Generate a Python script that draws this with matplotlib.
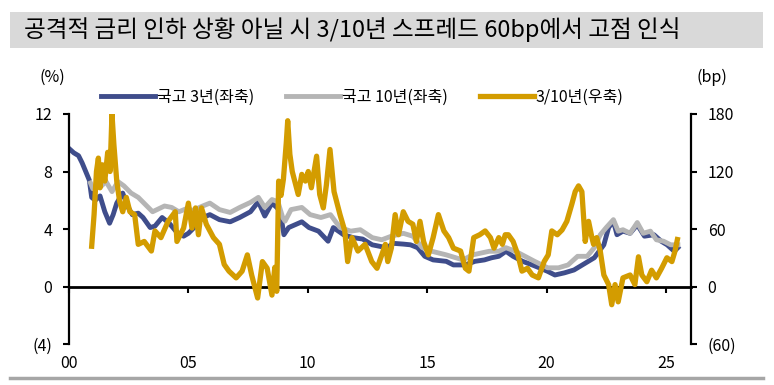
import matplotlib.pyplot as plt
from matplotlib.patches import Rectangle
from matplotlib.lines import Line2D

plt.rcParams['font.family'] = ['Noto Sans CJK KR', 'DejaVu Sans']

# 국고 3년 (%)
yr_3y = [2000.00, 2000.20, 2000.40, 2000.55, 2000.70, 2000.85, 2000.95, 2001.10, 2001.30, 2001.50,
         2001.70, 2001.85, 2002.00, 2002.25, 2002.45, 2002.65, 2002.90, 2003.10, 2003.40, 2003.60,
         2003.90, 2004.20, 2004.50, 2004.80, 2005.00, 2005.30, 2005.60, 2005.90, 2006.30, 2006.75,
         2007.15, 2007.60, 2007.93, 2008.20, 2008.50, 2008.70, 2008.85, 2009.00, 2009.20, 2009.75,
         2010.05, 2010.45, 2010.85, 2011.07, 2011.50, 2011.90, 2012.30, 2012.70, 2013.00, 2013.30,
         2013.60, 2014.00, 2014.30, 2014.60, 2014.90, 2015.25, 2015.80, 2016.10, 2016.60, 2017.00,
         2017.40, 2017.70, 2018.00, 2018.30, 2018.60, 2019.00, 2019.40, 2019.70, 2020.05, 2020.35,
         2020.75, 2021.15, 2021.60, 2022.00, 2022.20, 2022.40, 2022.60, 2022.80, 2022.95, 2023.20,
         2023.50, 2023.80, 2024.10, 2024.50, 2024.80, 2025.05, 2025.35, 2025.50]
ktb_3y = [9.6, 9.3, 9.1, 8.6, 8.0, 7.4, 6.2, 6.0, 6.3, 5.2,
          4.4, 5.0, 5.8, 6.5, 5.6, 5.0, 5.1, 4.8, 4.1, 4.2,
          4.8, 4.4, 3.8, 3.5, 3.7, 4.2, 4.8, 5.0, 4.65, 4.5,
          4.8, 5.2, 5.9, 4.9, 5.8, 5.5, 5.2, 3.6, 4.1, 4.5,
          4.1, 3.85, 3.15, 4.1, 3.6, 3.4, 3.3, 2.9, 2.8, 2.7,
          3.0, 2.95, 2.9, 2.7, 2.1, 1.85, 1.75, 1.5, 1.5, 1.75,
          1.85, 2.0, 2.1, 2.45, 2.1, 1.75, 1.5, 1.3, 1.05, 0.8,
          0.95, 1.15, 1.6, 2.0, 2.45, 2.9, 4.1, 4.55, 3.6, 3.85,
          3.7, 4.3, 3.5, 3.6, 3.15, 2.9, 2.45, 2.7]

# 국고 10년 (%)
yr_10y = [2000.90, 2001.00, 2001.30, 2001.55, 2001.80, 2002.05, 2002.30, 2002.60, 2002.90, 2003.20,
          2003.50, 2003.75, 2004.00, 2004.30, 2004.60, 2004.90, 2005.20, 2005.60, 2005.90, 2006.30,
          2006.75, 2007.15, 2007.60, 2007.93, 2008.20, 2008.50, 2008.75, 2008.95, 2009.05, 2009.30,
          2009.75, 2010.10, 2010.55, 2010.95, 2011.35, 2011.80, 2012.20, 2012.70, 2013.10, 2013.50,
          2014.00, 2014.40, 2014.80, 2015.20, 2015.80, 2016.50, 2016.90, 2017.60, 2018.00, 2018.30,
          2018.70, 2019.10, 2019.50, 2020.05, 2020.50, 2020.90, 2021.30, 2021.70, 2022.00, 2022.25,
          2022.50, 2022.80, 2023.00, 2023.20, 2023.50, 2023.80, 2024.05, 2024.35, 2024.60, 2024.90,
          2025.20, 2025.50]
ktb_10y = [7.2, 6.8, 6.9, 7.3, 6.6, 7.3, 7.0, 6.5, 6.2, 5.7,
           5.2, 5.4, 5.6, 5.5, 5.2, 5.4, 5.3, 5.6, 5.8, 5.35,
           5.15, 5.5, 5.85, 6.2, 5.5, 6.05, 5.9, 4.8, 4.55, 5.35,
           5.5, 5.0, 4.8, 5.0, 4.1, 3.85, 3.95, 3.4, 3.25, 3.5,
           3.7, 3.5, 2.7, 2.45, 2.2, 1.85, 2.2, 2.45, 2.45, 2.7,
           2.45, 2.1, 1.75, 1.3, 1.3, 1.5, 2.1, 2.1, 2.7, 3.6,
           4.1, 4.65, 3.85, 3.95, 3.7, 4.45, 3.7, 3.85, 3.25, 3.15,
           2.9, 2.9]

# 3/10년 스프레드 (bp)
yr_spr = [2000.95, 2001.05, 2001.15, 2001.23, 2001.30, 2001.40, 2001.50, 2001.62, 2001.72, 2001.80,
          2001.88, 2002.00, 2002.12, 2002.25, 2002.40, 2002.55, 2002.75, 2002.90, 2003.15, 2003.45,
          2003.60, 2003.85, 2004.15, 2004.45, 2004.52, 2004.80, 2005.00, 2005.15, 2005.30, 2005.42,
          2005.55, 2005.75, 2006.05, 2006.30, 2006.50, 2006.70, 2007.00, 2007.25, 2007.47, 2007.65,
          2007.90, 2008.10, 2008.30, 2008.50, 2008.62, 2008.70, 2008.78, 2008.88, 2008.98, 2009.10,
          2009.16, 2009.25, 2009.35, 2009.60, 2009.75, 2009.90, 2010.02, 2010.15, 2010.37, 2010.50,
          2010.65, 2010.78, 2010.93, 2011.10, 2011.35, 2011.55, 2011.67, 2011.85, 2012.10, 2012.40,
          2012.68, 2012.90, 2013.10, 2013.25, 2013.35, 2013.50, 2013.66, 2013.80, 2014.00, 2014.20,
          2014.40, 2014.55, 2014.70, 2014.85, 2015.05, 2015.25, 2015.47, 2015.70, 2015.90, 2016.10,
          2016.40, 2016.60, 2016.75, 2016.95, 2017.20, 2017.43, 2017.65, 2017.80, 2018.00, 2018.15,
          2018.27, 2018.40, 2018.60, 2018.80, 2018.97, 2019.20, 2019.40, 2019.66, 2019.90, 2020.07,
          2020.22, 2020.45, 2020.65, 2020.85, 2021.06, 2021.20, 2021.34, 2021.48, 2021.62, 2021.76,
          2021.90, 2021.97, 2022.10, 2022.25, 2022.40, 2022.60, 2022.73, 2022.87, 2023.00, 2023.20,
          2023.50, 2023.70, 2023.85, 2023.99, 2024.20, 2024.40, 2024.60, 2024.82, 2025.04, 2025.25,
          2025.38, 2025.48]
spread = [42, 75, 120, 134, 103, 127, 110, 140, 120, 180,
          148, 110, 89, 78, 93, 78, 75, 44, 47, 37,
          58, 51, 68, 78, 47, 61, 87, 61, 82, 54,
          82, 65, 51, 44, 23, 16, 9, 16, 33, 12,
          -12, 26, 19, -9, 20, -5, 110, 95, 112, 150,
          173, 138, 120, 96, 117, 110, 120, 103, 136, 96,
          82, 106, 143, 99, 75, 58, 26, 51, 37, 44,
          26, 19, 33, 44, 26, 40, 75, 54, 78, 68,
          65, 47, 68, 47, 33, 51, 75, 58, 51, 40,
          37, 19, 16, 51, 54, 58, 51, 40, 51, 44,
          54, 54, 47, 33, 16, 19, 12, 9, 26, 33,
          58, 54, 59, 68, 86, 99, 105, 99, 47, 68,
          51, 44, 51, 37, 12, 2, -19, 2, -16, 9,
          12, 2, 31, 12, 5, 17, 9, 19, 30, 26,
          37, 49]

x_ticks = [2000, 2005, 2010, 2015, 2020, 2025]
x_labels = ["00", "05", "10", "15", "20", "25"]
y_ticks = [-4, 0, 4, 8, 12]
y_labels = ["(4)", "0", "4", "8", "12"]
y2_ticks = [-60, 0, 60, 120, 180]
y2_labels = ["(60)", "0", "60", "120", "180"]

navy = "#3F4D8B"
grey = "#B5B5B5"
gold = "#D39C00"

fig = plt.figure(figsize=(7.74, 3.85), dpi=100)

# 제목 박스
fig.patches.append(Rectangle((10/774, 337/385), 753/774, 36/385, transform=fig.transFigure,
                             facecolor="#D9D9D9", edgecolor="none"))
fig.text(24/774, 355/385, "공격적 금리 인하 상황 아닐 시 3/10년 스프레드 60bp에서 고점 인식",
         fontsize=17, va="center", ha="left")
fig.add_artist(Line2D([10/774, 763/774], [7/385, 7/385], color="#A6A6A6", lw=2.5))

ax = fig.add_axes([69/774, 41/385, 622/774, 230/385])
ax.plot(yr_3y, ktb_3y, color=navy, lw=3.5, label="국고 3년(좌축)")
ax.plot(yr_10y, ktb_10y, color=grey, lw=3.5, label="국고 10년(좌축)")
ax.set_xlim(2000, 2026.05)
ax.set_ylim(-4, 12)

ax2 = ax.twinx()
ax2.plot(yr_spr, spread, color=gold, lw=3.8, label="3/10년(우축)")
ax2.set_ylim(-60, 180)

# 축 설정
for s in ["top", "right"]:
    ax.spines[s].set_visible(False)
ax.spines["bottom"].set_position(("data", 0))
ax.spines["bottom"].set_linewidth(2)
ax.spines["left"].set_linewidth(1.6)
for s in ["top", "left", "bottom"]:
    ax2.spines[s].set_visible(False)
ax2.spines["right"].set_linewidth(1.6)

ax.set_xticks(x_ticks)
ax.tick_params(axis="x", direction="out", length=4, width=1.5, labelbottom=False)
ax.set_yticks(y_ticks, y_labels)
ax.tick_params(axis="y", direction="out", length=4, width=1.5, pad=8, labelsize=11.5)
ax2.set_yticks(y2_ticks, y2_labels)
ax2.tick_params(axis="y", direction="out", length=4, width=1.5, pad=8, labelsize=11.5)

sec = ax.secondary_xaxis("bottom")
sec.set_xticks(x_ticks, x_labels)
sec.tick_params(length=0, pad=8, labelsize=11.5)
sec.spines["bottom"].set_visible(False)

fig.text(52/774, 308/385, "(%)", fontsize=11.5, ha="center", va="center")
fig.text(712/774, 308/385, "(bp)", fontsize=11.5, ha="center", va="center")

h1, l1 = ax.get_legend_handles_labels()
h2, l2 = ax2.get_legend_handles_labels()
fig.legend(h1 + h2, l1 + l2, loc="center", bbox_to_anchor=(362/774, 288/385), ncol=3,
           frameon=False, fontsize=11.5, handlelength=3.4, handletextpad=0.1, columnspacing=2.0)

fig.savefig("out.png", dpi=100)
